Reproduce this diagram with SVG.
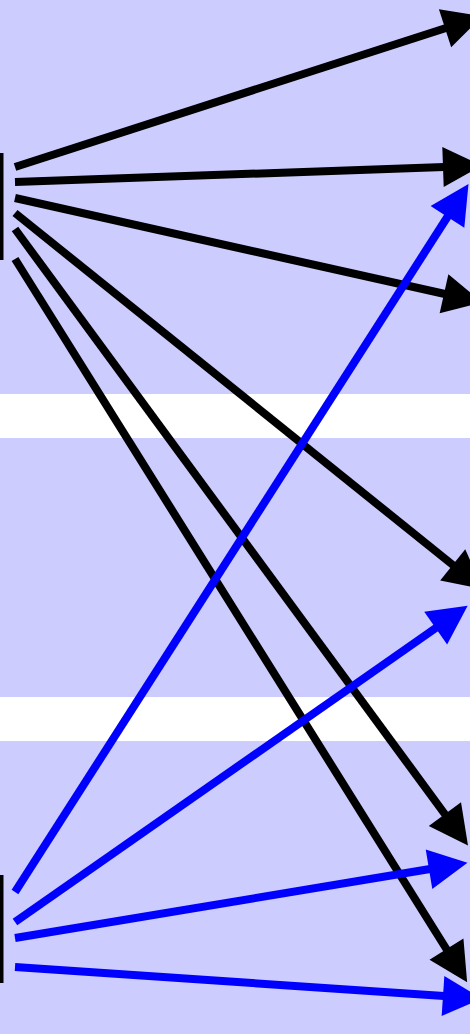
<svg xmlns="http://www.w3.org/2000/svg" width="470" height="1034" viewBox="0 0 470 1034">
<style>
.band{fill:#ccccff}
.bar{fill:#000000}
.blk{stroke:#000000;stroke-width:8;fill:none;marker-end:url(#hb)}
.blu{stroke:#0000ff;stroke-width:8;fill:none;marker-end:url(#hu)}
</style>
<defs>
<marker id="hb" markerUnits="userSpaceOnUse" viewBox="0 -21 41 42" markerWidth="41" markerHeight="42" refX="1" refY="0" orient="auto" overflow="visible"><path d="M0,-20 L39,0 L0,20 Z" fill="#000000"/></marker>
<marker id="hu" markerUnits="userSpaceOnUse" viewBox="0 -21 41 42" markerWidth="41" markerHeight="42" refX="1" refY="0" orient="auto" overflow="visible"><path d="M0,-20 L39,0 L0,20 Z" fill="#0000ff"/></marker>
</defs>
<rect x="0" y="0" width="470" height="1034" fill="#ffffff"/>
<rect class="band" x="0" y="0" width="470" height="394"/>
<rect class="band" x="0" y="438" width="470" height="259"/>
<rect class="band" x="0" y="741" width="470" height="293"/>
<g id="node-top"><rect class="bar" x="0" y="153" width="3.5" height="107"/></g>
<g id="node-bottom"><rect class="bar" x="0" y="875" width="3.5" height="108"/></g>
<g id="connectors">
<line class="blk" x1="15" y1="167" x2="446" y2="28"/>
<line class="blk" x1="15" y1="182" x2="444" y2="167"/>
<line class="blk" x1="15" y1="198" x2="445" y2="294"/>
<line class="blk" x1="15" y1="213" x2="453.5" y2="565.5"/>
<line class="blk" x1="15" y1="229" x2="445.5" y2="815"/>
<line class="blk" x1="15" y1="259" x2="447" y2="950"/>
<line class="blu" x1="15" y1="892" x2="448" y2="216"/>
<line class="blu" x1="15" y1="922" x2="436.5" y2="627.5"/>
<line class="blu" x1="15" y1="938" x2="430" y2="869"/>
<line class="blu" x1="15" y1="967" x2="444" y2="996"/>
</g>
</svg>
